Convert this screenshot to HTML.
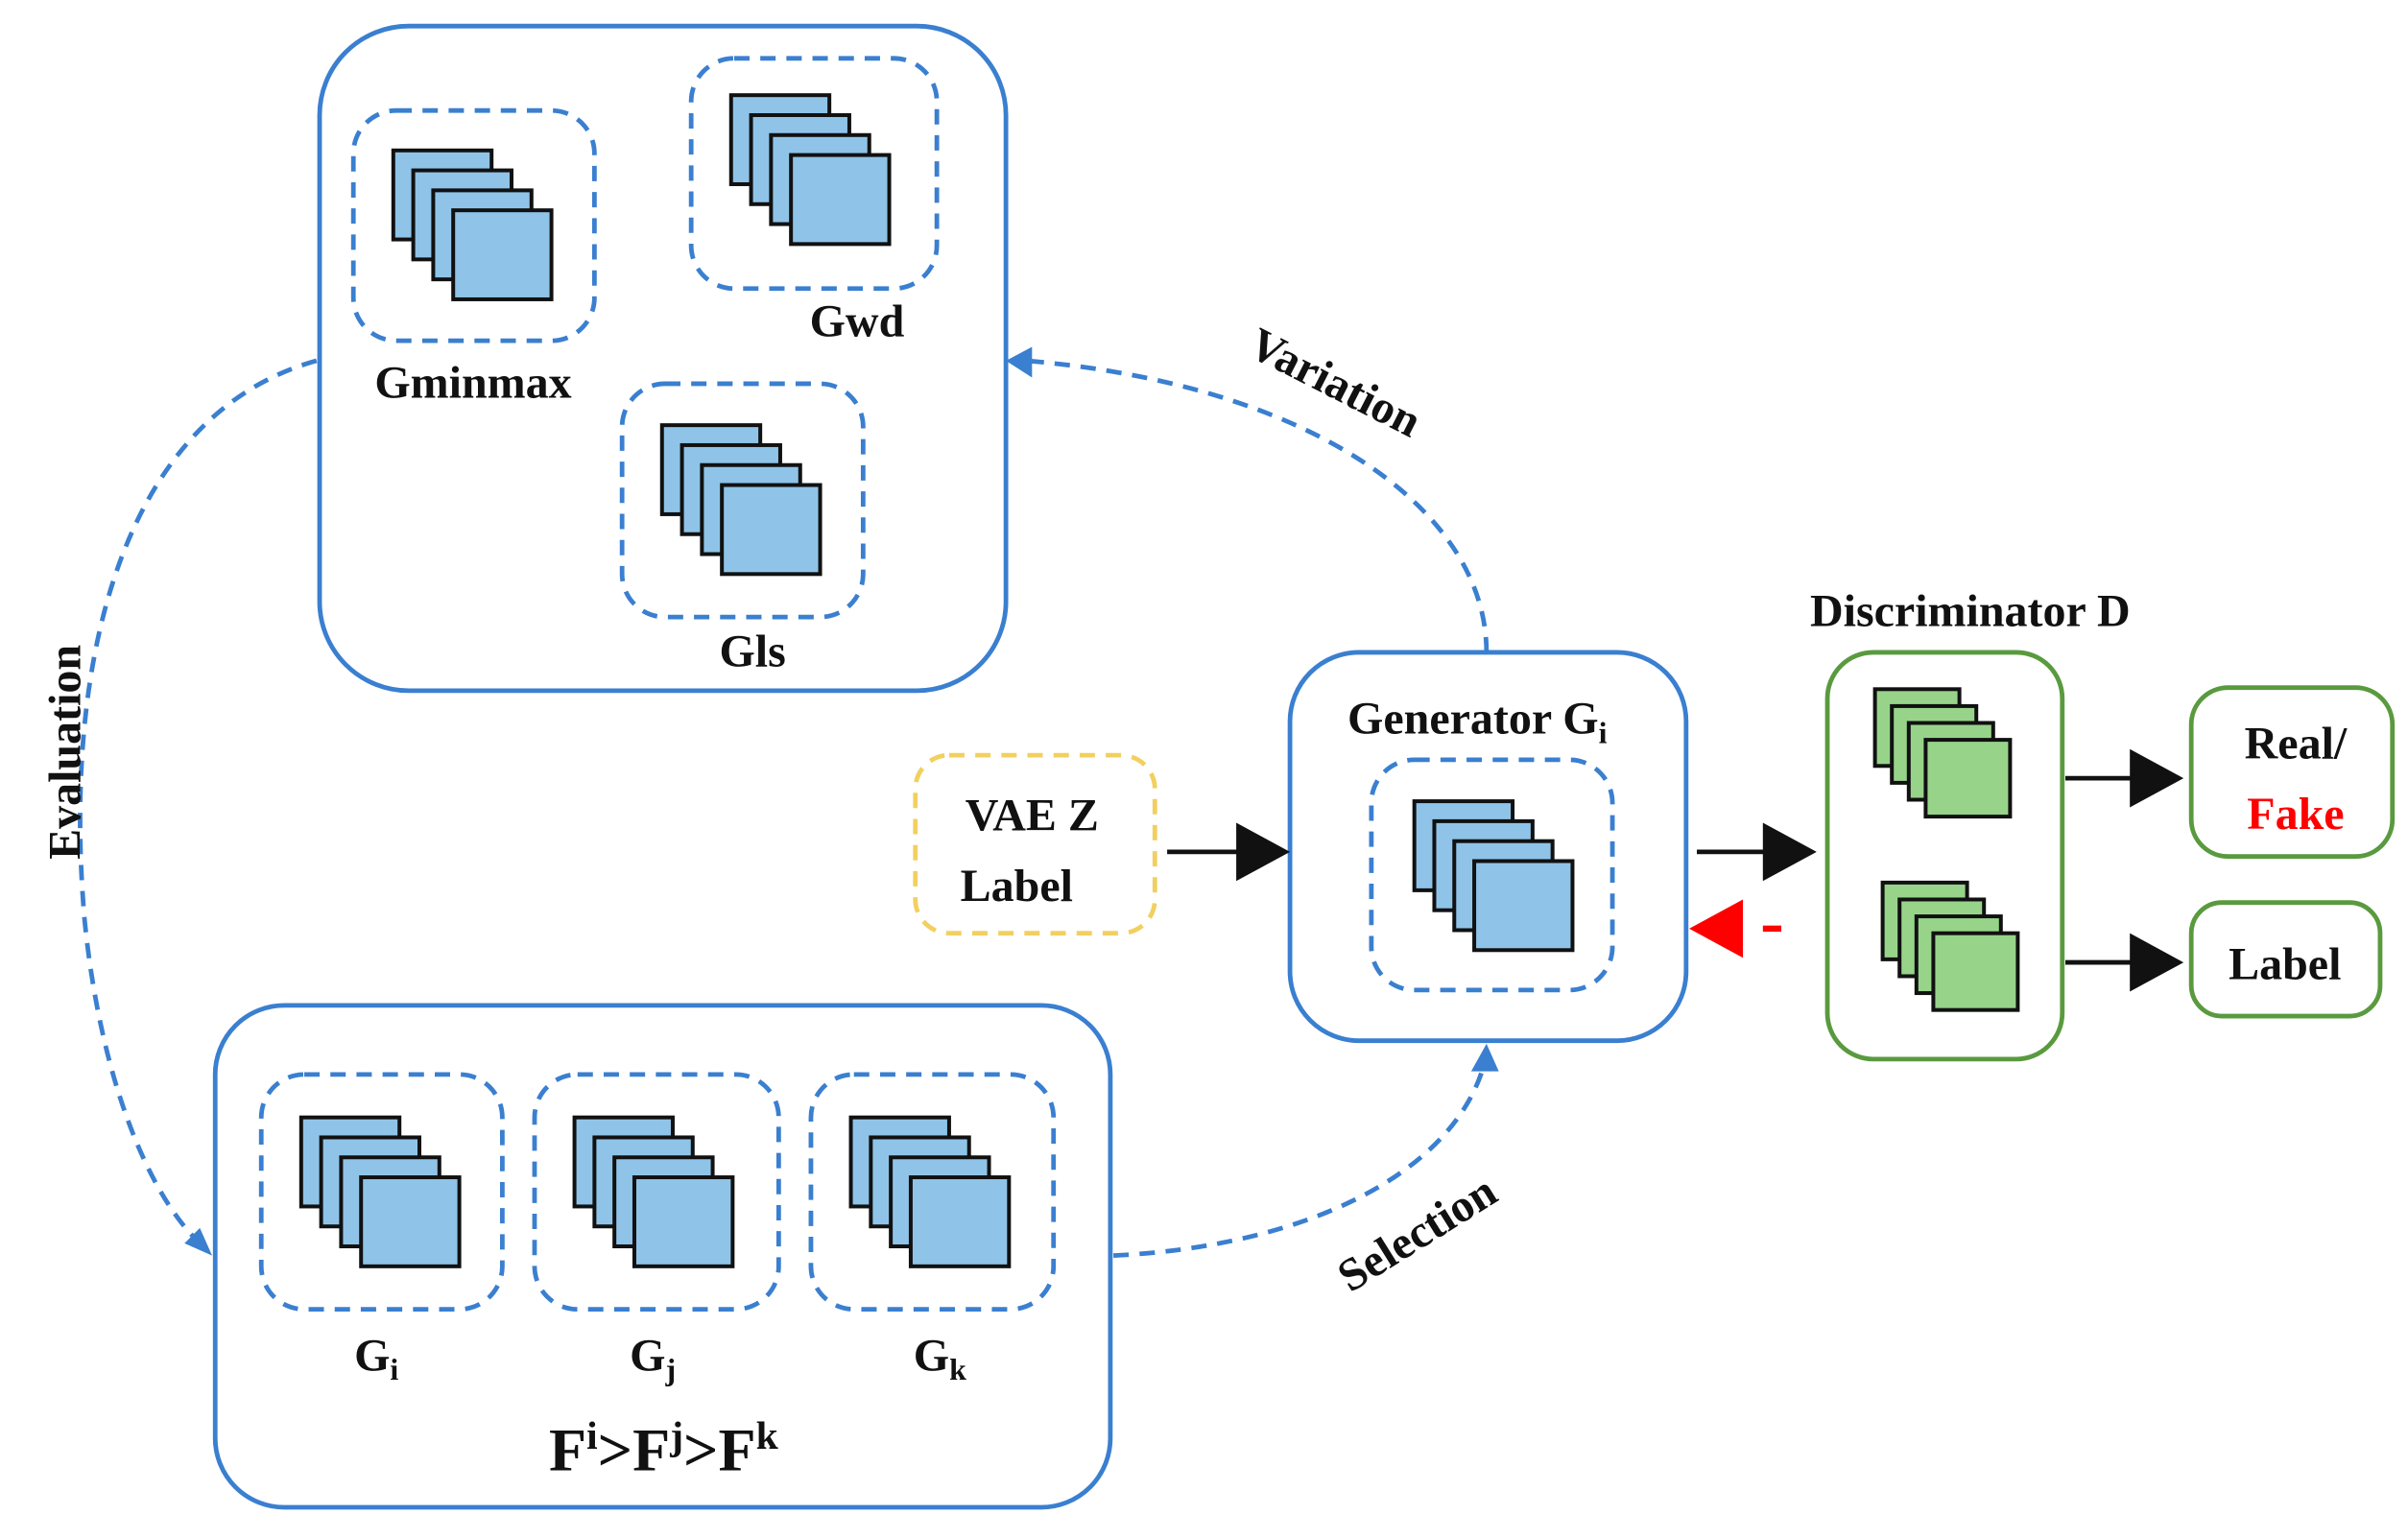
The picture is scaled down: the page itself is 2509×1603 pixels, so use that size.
<!DOCTYPE html>
<html><head><meta charset="utf-8"><style>html,body{margin:0;padding:0;background:#fff}svg{display:block}text{font-family:"Liberation Serif",serif;font-weight:bold;fill:#111}</style></head>
<body>
<svg width="2509" height="1603" viewBox="0 0 1568 1002" xmlns="http://www.w3.org/2000/svg">
<defs>
<g id="sb">
<rect x="0" y="0" width="64" height="58" fill="#8fc4e8" stroke="#111" stroke-width="2.5"/>
<rect x="13" y="13" width="64" height="58" fill="#8fc4e8" stroke="#111" stroke-width="2.5"/>
<rect x="26" y="26" width="64" height="58" fill="#8fc4e8" stroke="#111" stroke-width="2.5"/>
<rect x="39" y="39" width="64" height="58" fill="#8fc4e8" stroke="#111" stroke-width="2.5"/>
</g>
<g id="sg">
<rect x="0" y="0" width="55" height="50" fill="#97d48a" stroke="#111" stroke-width="2.5"/>
<rect x="11" y="11" width="55" height="50" fill="#97d48a" stroke="#111" stroke-width="2.5"/>
<rect x="22" y="22" width="55" height="50" fill="#97d48a" stroke="#111" stroke-width="2.5"/>
<rect x="33" y="33" width="55" height="50" fill="#97d48a" stroke="#111" stroke-width="2.5"/>
</g>
</defs>
<g fill="none" stroke="#3a7fd0" stroke-width="3">
<rect x="208" y="17" width="447" height="433" rx="58"/>
<rect x="140" y="655" width="583" height="327" rx="45"/>
<rect x="840" y="425" width="258" height="253" rx="45"/>
</g>
<g fill="none" stroke="#3a7fd0" stroke-width="3" stroke-dasharray="10,7">
<rect x="230" y="72" width="157" height="150" rx="28"/>
<rect x="450" y="38" width="160" height="150" rx="28"/>
<rect x="405" y="250" width="157" height="152" rx="28"/>
<rect x="170" y="700" width="157" height="153" rx="28"/>
<rect x="348" y="700" width="159" height="153" rx="28"/>
<rect x="528" y="700" width="158" height="153" rx="28"/>
<rect x="893" y="495" width="157" height="150" rx="28"/>
<path d="M968,425 C968,330 850,250 668,235"/>
<path d="M206,235 C80,270 40,430 55,600 C65,700 95,775 128,808"/>
<path d="M725,818 C850,812 945,765 966,695"/>
</g>
<g fill="#3a7fd0">
<polygon points="655,235 672,226 672,246"/>
<polygon points="138,818 120,810 130,800"/>
<polygon points="968,680 958,698 976,698"/>
</g>
<rect x="596" y="492" width="156" height="116" rx="22" fill="none" stroke="#f2d060" stroke-width="3" stroke-dasharray="10,7"/>
<g fill="none" stroke="#5a9a3f" stroke-width="3">
<rect x="1190" y="425" width="153" height="265" rx="30"/>
<rect x="1427" y="448" width="131" height="110" rx="24"/>
<rect x="1427" y="588" width="123" height="74" rx="20"/>
</g>
<use href="#sb" x="256" y="98"/>
<use href="#sb" x="476" y="62"/>
<use href="#sb" x="431" y="277"/>
<use href="#sb" x="196" y="728"/>
<use href="#sb" x="374" y="728"/>
<use href="#sb" x="554" y="728"/>
<use href="#sb" x="921" y="522"/>
<use href="#sg" x="1221" y="449"/>
<use href="#sg" x="1226" y="575"/>
<g stroke="#111" stroke-width="3">
<line x1="760" y1="555" x2="810" y2="555"/>
<line x1="1105" y1="555" x2="1152" y2="555"/>
<line x1="1345" y1="507" x2="1392" y2="507"/>
<line x1="1345" y1="627" x2="1392" y2="627"/>
</g>
<g fill="#111">
<polygon points="840,555 805,536 805,574"/>
<polygon points="1183,555 1148,536 1148,574"/>
<polygon points="1422,507 1387,488 1387,526"/>
<polygon points="1422,627 1387,608 1387,646"/>
</g>
<polygon points="1100,605 1135,586 1135,624" fill="#f00"/>
<rect x="1148" y="603" width="12" height="4" fill="#f00"/>
<g font-size="30" text-anchor="middle">
<text x="308" y="259">Gminmax</text>
<text x="558" y="219">Gwd</text>
<text x="490" y="434">Gls</text>
<text x="245" y="893">G<tspan font-size="20" dy="6">i</tspan></text>
<text x="425" y="893">G<tspan font-size="20" dy="6">j</tspan></text>
<text x="612" y="893">G<tspan font-size="20" dy="6">k</tspan></text>
<text x="962" y="478">Generator G<tspan font-size="20" dy="6">i</tspan></text>
<text x="1283" y="408">Discriminator D</text>
<text x="672" y="541">VAE Z</text>
<text x="662" y="587">Label</text>
<text x="1495" y="494">Real/</text>
<text x="1495" y="540" style="fill:#f00">Fake</text>
<text x="1488" y="638">Label</text>
<text x="865" y="258" transform="rotate(27 865 258)">Variation</text>
<text x="52" y="490" transform="rotate(-90 52 490)">Evaluation</text>
<text x="928" y="812" transform="rotate(-32 928 812)">Selection</text>
</g>
<text x="432" y="958" font-size="40" text-anchor="middle">F<tspan font-size="26" dy="-14">i</tspan><tspan dy="14">&gt;F</tspan><tspan font-size="26" dy="-14">j</tspan><tspan dy="14">&gt;F</tspan><tspan font-size="26" dy="-14">k</tspan></text>
</svg>
</body></html>
